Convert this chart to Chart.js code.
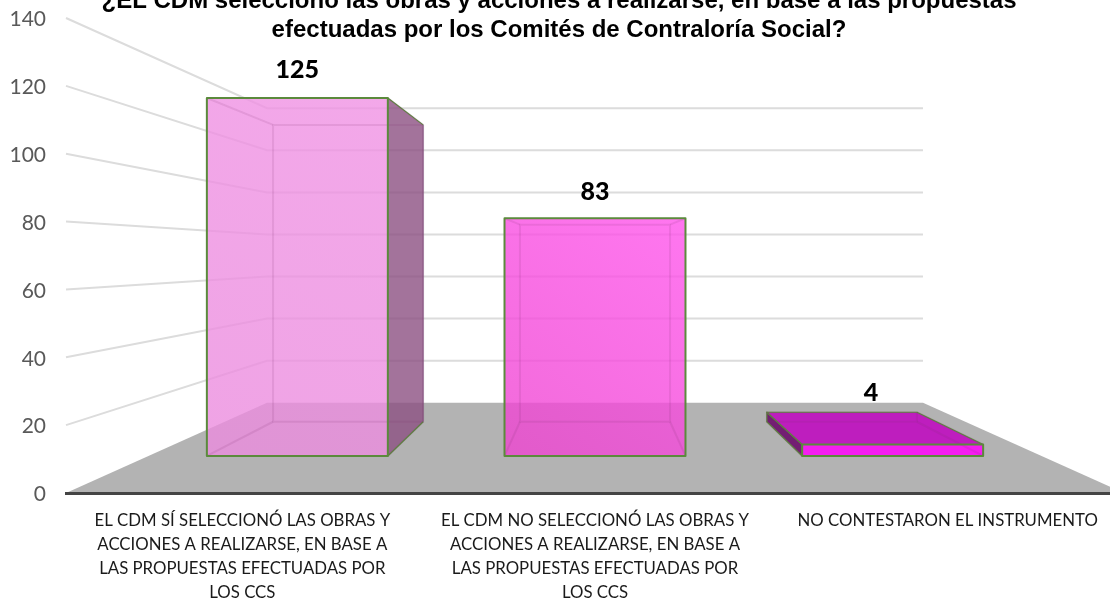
<!DOCTYPE html>
<html lang="es">
<head>
    <meta charset="UTF-8">
    <title>Contraloría Social</title>
    <script src="https://cdn.jsdelivr.net/npm/chart.js"></script>
    <style>
      html, body { margin: 0; padding: 0; background: #fff; }
      #wrap { width: 1110px; height: 601px; overflow: hidden; }
      canvas { display: block; }
    </style>
</head>
<body>
    <div id="wrap"><canvas id="myChart" width="1124" height="601"></canvas></div>
    <script>
      const categories = [
        ['EL CDM SÍ SELECCIONÓ LAS OBRAS Y', 'ACCIONES A REALIZARSE, EN BASE A', 'LAS PROPUESTAS EFECTUADAS POR', 'LOS CCS'],
        ['EL CDM NO SELECCIONÓ LAS OBRAS Y', 'ACCIONES A REALIZARSE, EN BASE A', 'LAS PROPUESTAS EFECTUADAS POR', 'LOS CCS'],
        ['NO CONTESTARON EL INSTRUMENTO']
      ];
      const values = [125, 83, 4];
      const yMax = 140;
      const yStep = 20;
      const titleLines = [
        '¿EL CDM seleccionó las obras y acciones a realizarse, en base a las propuestas',
        'efectuadas por los Comités de Contraloría Social?'
      ];

      // caras de cada barra
      const frontFill = [
        ['rgba(235,140,222,.8)', 'rgba(240,146,228,.8)'],
        ['rgba(238,68,208,.8)', 'rgba(255,84,236,.8)'],
        ['rgb(245,30,240)', 'rgb(245,30,240)']
      ];
      const sideFill = ['rgba(140,80,130,.8)', 'rgba(140,80,130,.8)', 'rgb(115,30,115)'];
      const topFill = 'rgb(190,30,190)';
      const labelNudge = [[0, 0], [0, 2], [0, 9]];
      const green = '#5b8a3c';

      // profundidad: 1 = plano del eje, hacia el punto de fuga
      const floorDepth = 0.62;
      const barFront = 0.844;
      const barBack = 0.70;

      function projector(chart) {
        const a = chart.chartArea;
        const vx = (a.left + a.right) / 2;
        const vy = (a.top + a.bottom) / 2;
        return (x, y, s) => [vx + (x - vx) * s, vy + (y - vy) * s];
      }

      function poly(ctx, pts) {
        ctx.beginPath();
        pts.forEach((p, i) => i ? ctx.lineTo(p[0], p[1]) : ctx.moveTo(p[0], p[1]));
        ctx.closePath();
      }

      function line(ctx, a, b) {
        ctx.beginPath();
        ctx.moveTo(a[0], a[1]);
        ctx.lineTo(b[0], b[1]);
        ctx.stroke();
      }

      const scene = {
        id: 'scene',
        // piso y lineas de la pared
        beforeDraw(chart) {
          const {ctx, chartArea: a, scales} = chart;
          const p = projector(chart);
          const y0 = scales.y.getPixelForValue(0);
          ctx.save();
          ctx.fillStyle = '#b3b3b3';
          poly(ctx, [[a.left, y0], [a.right, y0], p(a.right, y0, floorDepth), p(a.left, y0, floorDepth)]);
          ctx.fill();
          ctx.strokeStyle = '#dcdcdc';
          ctx.lineWidth = 2;
          scales.y.ticks.forEach(t => {
            if (t.value === 0) return;
            const y = scales.y.getPixelForValue(t.value);
            const b1 = p(a.left, y, floorDepth);
            const b2 = p(a.right, y, floorDepth);
            ctx.beginPath();
            ctx.moveTo(a.left, y);
            ctx.lineTo(b1[0], b1[1]);
            ctx.lineTo(b2[0], b2[1]);
            ctx.stroke();
          });
          ctx.restore();
        },
        // barras en 3D a partir de los elementos de la grafica
        afterDatasetsDraw(chart) {
          const {ctx, chartArea: a} = chart;
          const p = projector(chart);
          const vx = (a.left + a.right) / 2;
          const vy = (a.top + a.bottom) / 2;
          chart.getDatasetMeta(0).data.forEach((bar, i) => {
            const l = bar.x - bar.width / 2;
            const r = bar.x + bar.width / 2;
            const ftl = p(l, bar.y, barFront), ftr = p(r, bar.y, barFront);
            const fbl = p(l, bar.base, barFront), fbr = p(r, bar.base, barFront);
            const btl = p(l, bar.y, barBack), btr = p(r, bar.y, barBack);
            const bbl = p(l, bar.base, barBack), bbr = p(r, bar.base, barBack);
            ctx.save();
            ctx.lineJoin = 'round';

            // cara lateral que se alcanza a ver
            if (fbr[0] < vx) {
              ctx.fillStyle = sideFill[i];
              poly(ctx, [ftr, btr, bbr, fbr]);
              ctx.fill();
              ctx.strokeStyle = 'rgba(130,85,125,.9)';
              ctx.lineWidth = 1;
              line(ctx, btr, bbr);
              ctx.strokeStyle = green;
              ctx.lineWidth = 1.2;
              line(ctx, ftr, btr);
              line(ctx, fbr, bbr);
            } else if (fbl[0] > vx) {
              ctx.fillStyle = sideFill[i];
              poly(ctx, [ftl, btl, bbl, fbl]);
              ctx.fill();
              ctx.strokeStyle = green;
              ctx.lineWidth = 1.2;
              ctx.stroke();
            }
            // cara superior, solo si queda abajo del punto de fuga
            if (ftl[1] > vy) {
              ctx.fillStyle = topFill;
              poly(ctx, [ftl, ftr, btr, btl]);
              ctx.fill();
              ctx.strokeStyle = green;
              ctx.lineWidth = 1.2;
              ctx.stroke();
            }

            const g = ctx.createLinearGradient(fbl[0], fbl[1], ftr[0], ftr[1]);
            g.addColorStop(0, frontFill[i][0]);
            g.addColorStop(1, frontFill[i][1]);
            ctx.fillStyle = g;
            ctx.fillRect(ftl[0], ftl[1], ftr[0] - ftl[0], fbl[1] - ftl[1]);

            // aristas traseras, apenas visibles
            ctx.strokeStyle = 'rgba(120,50,110,.13)';
            ctx.lineWidth = 2;
            poly(ctx, [btl, btr, bbr, bbl]);
            ctx.stroke();
            line(ctx, ftl, btl);
            line(ctx, ftr, btr);
            line(ctx, fbl, bbl);
            line(ctx, fbr, bbr);

            ctx.strokeStyle = green;
            ctx.lineWidth = 2;
            ctx.strokeRect(ftl[0], ftl[1], ftr[0] - ftl[0], fbl[1] - ftl[1]);

            // etiqueta con el valor
            const top = Math.min(ftl[1], btl[1]);
            ctx.fillStyle = '#000';
            ctx.font = '900 25px Lato';
            ctx.textAlign = 'center';
            ctx.textBaseline = 'middle';
            const mid = (ftl[0] + ftr[0]) / 2;
            // la ultima etiqueta va sobre el centro de la cara superior
            const lx = ftl[1] > vy ? (btl[0] + ftr[0]) / 2 - 4 : mid;
            ctx.fillText(String(values[i]), lx + labelNudge[i][0], top - 28 + labelNudge[i][1]);
            ctx.restore();
          });
        }
      };

      const myChart = new Chart(document.getElementById('myChart').getContext('2d'), {
        type: 'bar',
        data: {
          labels: categories,
          datasets: [{
            data: values,
            backgroundColor: 'rgba(0,0,0,0)',
            borderWidth: 0,
            categoryPercentage: 1,
            barPercentage: 0.608
          }]
        },
        plugins: [scene],
        options: {
          responsive: false,
          animation: false,
          layout: { padding: { left: -6, top: 18, right: 0, bottom: 0 } },
          plugins: {
            legend: { display: false },
            tooltip: { enabled: false },
            title: {
              display: true,
              text: titleLines,
              color: '#000',
              font: { family: '"Liberation Sans"', size: 24, weight: 'bold', lineHeight: 1.2 },
              padding: { top: -31, bottom: -26.6 }
            }
          },
          scales: {
            x: {
              grid: { display: false, drawTicks: false },
              border: { color: '#444', width: 3 },
              afterFit(scale) { scale.height = 108; },
              ticks: {
                maxRotation: 0,
                autoSkip: false,
                padding: 15,
                color: '#1a1a1a',
                font: { family: 'Lato', size: 16.8, lineHeight: 1.445 }
              }
            },
            y: {
              min: 0,
              max: yMax,
              grid: { display: false, drawTicks: false },
              border: { display: false },
              afterFit(scale) {
                scale.width = 72;
                scale.paddingTop = 0;
                scale.paddingBottom = 0;
              },
              ticks: {
                stepSize: yStep,
                padding: 20,
                labelOffset: 1.5,
                color: '#595959',
                font: { family: 'Lato', size: 21 }
              }
            }
          }
        }
      });
    </script>
</body>
</html>
